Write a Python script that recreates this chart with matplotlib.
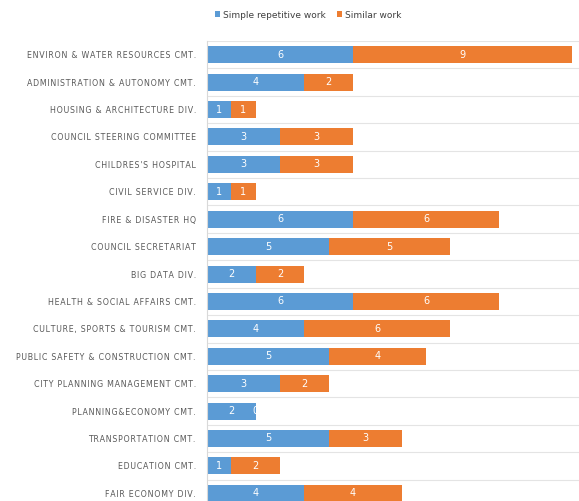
import numpy as np
import matplotlib
matplotlib.use("Agg")
import matplotlib.pyplot as plt

categories = [
    "ENVIRON & WATER RESOURCES CMT.",
    "ADMINISTRATION & AUTONOMY CMT.",
    "HOUSING & ARCHITECTURE DIV.",
    "COUNCIL STEERING COMMITTEE",
    "CHILDRES'S HOSPITAL",
    "CIVIL SERVICE DIV.",
    "FIRE & DISASTER HQ",
    "COUNCIL SECRETARIAT",
    "BIG DATA DIV.",
    "HEALTH & SOCIAL AFFAIRS CMT.",
    "CULTURE, SPORTS & TOURISM CMT.",
    "PUBLIC SAFETY & CONSTRUCTION CMT.",
    "CITY PLANNING MANAGEMENT CMT.",
    "PLANNING&ECONOMY CMT.",
    "TRANSPORTATION CMT.",
    "EDUCATION CMT.",
    "FAIR ECONOMY DIV.",
]
simple_work = [6, 4, 1, 3, 3, 1, 6, 5, 2, 6, 4, 5, 3, 2, 5, 1, 4]
similar_work = [9, 2, 1, 3, 3, 1, 6, 5, 2, 6, 6, 4, 2, 0, 3, 2, 4]

blue = "#5B9BD5"
orange = "#ED7D31"

fig = plt.figure(figsize=(5.79, 5.01), dpi=100)
ax = fig.add_axes([207 / 579, 0, 372 / 579, 460 / 501])

y = np.arange(len(categories))
b1 = ax.barh(y, simple_work, height=0.62, color=blue, label="Simple repetitive work")
b2 = ax.barh(y, similar_work, left=simple_work, height=0.62, color=orange, label="Similar work")
ax.bar_label(b1, label_type="center", color="white", fontsize=7)
ax.bar_label(b2, label_type="center", color="white", fontsize=7)

# spaced-out caps like the original labels
spaced = ["\u200a".join(c) for c in categories]

ax.set_yticks(y)
ax.set_yticklabels(spaced, fontsize=5.7, color="#595959")
ax.set_yticks(y - 0.5, minor=True)
ax.set_xlim(0, 372 / 24.33)
ax.set_ylim(16.28, -0.5)
ax.tick_params(axis="y", which="both", length=0, pad=8)
ax.tick_params(axis="x", bottom=False, labelbottom=False)
ax.grid(axis="y", which="minor", color="#E4E4E4", linewidth=0.8)
ax.set_axisbelow(True)
for s in ["top", "right", "bottom"]:
    ax.spines[s].set_visible(False)
ax.spines["left"].set_color("#D9D9D9")

fig.legend(handles=[b1, b2], loc="center", bbox_to_anchor=(308 / 579, 1 - 15 / 501),
           ncol=2, frameon=False, fontsize=6.5, handlelength=0.6, handleheight=0.6,
           handletextpad=0.3, columnspacing=1.2, labelcolor="#404040")

fig.savefig("out.png", dpi=100)
